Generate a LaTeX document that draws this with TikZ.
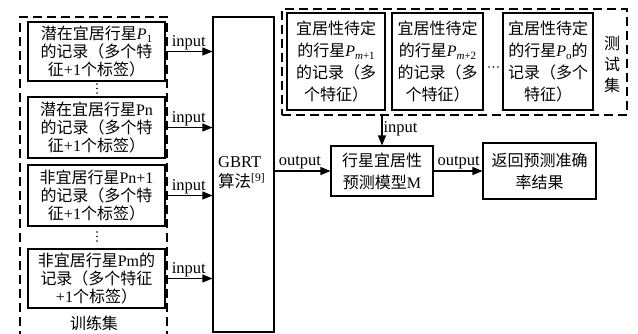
\documentclass[tikz,border=0pt]{standalone}
\usepackage{fontspec}
\setmainfont{Liberation Serif}
\newfontfamily\cjk{Noto Sans CJK SC}
\newcommand\zh[1]{{\cjk #1}}
\newcommand\Psub[1]{\textit{P}\raisebox{-0.35ex}{\fontsize{11}{11}\selectfont #1}}
\usetikzlibrary{arrows.meta}
\begin{document}
\begin{tikzpicture}[x=1pt,y=-1pt,
  box/.style={draw, line width=1.1pt, inner sep=0pt, align=center, font=\fontsize{16}{18}\selectfont},
  tbox/.style={box, font=\fontsize{16}{22}\selectfont},
  dbox/.style={draw, line width=1.3pt, dash pattern=on 9pt off 5pt, inner sep=0pt},
  arr/.style={line width=1.1pt, -{Triangle[length=10pt,width=8pt]}},
  lab/.style={font=\fontsize{16.5}{18}\selectfont, inner sep=1pt},
  dot/.style={circle, fill, inner sep=0pt, minimum size=1.6pt}]
\useasboundingbox (0,0) rectangle (638,333);
% training set
\node[dbox, minimum width=147pt, minimum height=330pt] (train) at (93.5,182) {};
\node[box, minimum width=137pt, minimum height=59pt] (b1) at (96.5,51.5)
  {\zh{潜在宜居行星}\Psub{1}\\\zh{的记录（多个特}\\\zh{征}+1\zh{个标签）}};
\node[box, minimum width=137pt, minimum height=61pt] (b2) at (96.5,127.5)
  {\zh{潜在宜居行星}Pn\\\zh{的记录（多个特}\\\zh{征}+1\zh{个标签）}};
\node[box, minimum width=137pt, minimum height=61pt] (b3) at (96.5,195.5)
  {\zh{非宜居行星}Pn+1\\\zh{的记录（多个特}\\\zh{征}+1\zh{个标签）}};
\node[box, minimum width=137pt, minimum height=59pt] (b4) at (96.5,278.5)
  {\zh{非宜居行星}Pm\zh{的}\\\zh{记录（多个特征}\\+1\zh{个标签）}};
\foreach \yy in {84,88.5,93}{ \node[dot] at (97,\yy) {}; }
\foreach \yy in {232,236.5,241}{ \node[dot] at (97,\yy) {}; }
\node[lab, font=\fontsize{16}{18}\selectfont] (tl) at (94,323) {\zh{训练集}};
% GBRT
\node[box, minimum width=61pt, minimum height=315pt] (gbrt) at (243.5,174.5) {};
\node[lab, anchor=west, align=left, font=\fontsize{16.5}{20}\selectfont] (gt) at (217,173)
  {GBRT\\\zh{算法}\textsuperscript{[9]}};
\foreach \b in {b1,b2,b3,b4}{
  \draw[arr] (\b.east) -- (\b.east -| gbrt.west) node[lab, pos=0.1, anchor=south west] {input};
}
% test set
\node[dbox, minimum width=345pt, minimum height=106pt] (test) at (454.5,62) {};
\node[tbox, minimum width=98pt, minimum height=97pt] (t1) at (336,61.5)
  {\zh{宜居性待定}\\\zh{的行星}\Psub{\textit{m}+1}\\\zh{的记录（多}\\\zh{个特征）}};
\node[tbox, minimum width=91pt, minimum height=97pt] (t2) at (437.5,61.5)
  {\zh{宜居性待定}\\\zh{的行星}\Psub{\textit{m}+2}\\\zh{的记录（多}\\\zh{个特征）}};
\node[tbox, minimum width=90pt, minimum height=97pt] (t3) at (548,61.5)
  {\zh{宜居性待定}\\\zh{的行星}\Psub{o}\zh{的}\\\zh{记录（多个}\\\zh{特征）}};
\foreach \xx in {489,493.5,498}{ \node[dot] at (\xx,67) {}; }
\node[lab, align=center, font=\fontsize{16}{21}\selectfont] (tsl) at (612,64) {\zh{测}\\\zh{试}\\\zh{集}};
% model and result
\node[tbox, minimum width=102pt, minimum height=50pt] (model) at (382,171)
  {\zh{行星宜居性}\\\zh{预测模型}M};
\node[tbox, minimum width=113pt, minimum height=56pt] (res) at (539.5,171)
  {\zh{返回预测准确}\\\zh{率结果}};
\draw[arr] (gbrt.east |- model.west) -- (model.west) node[lab, pos=0.05, anchor=south west] {output};
\draw[arr] (model.east) -- (res.west) node[lab, pos=0.05, anchor=south west] {output};
\draw[arr] (test.south -| model.north) -- (model.north) node[lab, pos=0.45, anchor=west] {input};
\end{tikzpicture}
\end{document}
